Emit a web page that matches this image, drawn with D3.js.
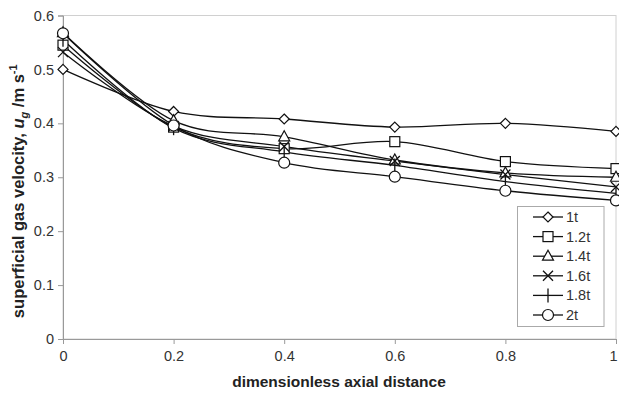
<!DOCTYPE html>
<html><head><meta charset="utf-8">
<script src="https://cdn.jsdelivr.net/npm/d3@7"></script>
<style>body{margin:0;background:#fff}svg{display:block;font-family:"Liberation Sans",Arial,sans-serif}</style>
</head><body><svg id="c" width="619" height="396"></svg>
<script>
const xs = [0, 0.2, 0.4, 0.6, 0.8, 1];
const seriesNames = ["1t", "1.2t", "1.4t", "1.6t", "1.8t", "2t"];
const s1t  = [0.500, 0.422, 0.408, 0.393, 0.400, 0.385];
const s12t = [0.545, 0.393, 0.353, 0.366, 0.329, 0.316];
const s14t = [0.568, 0.405, 0.375, 0.332, 0.308, 0.300];
const s16t = [0.532, 0.395, 0.357, 0.330, 0.305, 0.282];
const s18t = [0.555, 0.391, 0.347, 0.322, 0.292, 0.270];
const s2t  = [0.567, 0.396, 0.327, 0.301, 0.275, 0.257];
const markers = ["diamond", "square", "triangle", "cross", "plus", "circle"];
const xTicks = [0, 0.2, 0.4, 0.6, 0.8, 1];
const yTicks = [0, 0.1, 0.2, 0.3, 0.4, 0.5, 0.6];

const allSeries = [s1t, s12t, s14t, s16t, s18t, s2t];
const svg = d3.select("#c");
const L = 63, R = 616, T = 15.5, B = 339;
const x = d3.scaleLinear().domain([0, 1]).range([L, R]);
const y = d3.scaleLinear().domain([0, 0.6]).range([B, T]);
const gray = "#999";

// frame
svg.append("rect").attr("x", L).attr("y", T).attr("width", R - L).attr("height", B - T)
  .attr("fill", "none").attr("stroke", "#d0d0d0").attr("stroke-width", 1);

const ya = svg.append("g").attr("transform", `translate(${L},0)`)
  .call(d3.axisLeft(y).tickValues(yTicks).tickSize(5).tickPadding(4).tickFormat(d => d3.format("")(+d.toFixed(1))));
const xa = svg.append("g").attr("transform", `translate(0,${B})`)
  .call(d3.axisBottom(x).tickValues(xTicks).tickSize(5).tickPadding(7).tickFormat(d => d3.format("")(+d.toFixed(1))));
[ya, xa].forEach(a => {
  a.select(".domain").attr("stroke", gray);
  a.selectAll(".tick line").attr("stroke", gray);
  a.selectAll("text").attr("font-size", 14.5).attr("fill", "#333").attr("font-family", "Liberation Sans, Arial, sans-serif");
});
xa.selectAll(".tick text").filter(d => d === 1).attr("dx", -3);

function drawMarker(g, type, cx, cy) {
  const st = {fill: "#fff", stroke: "#111", "stroke-width": 1.2};
  const apply = s => { for (const k in st) s.attr(k, st[k]); return s; };
  if (type === "diamond") apply(g.append("path").attr("d", `M${cx},${cy-5}L${cx+5},${cy}L${cx},${cy+5}L${cx-5},${cy}Z`));
  else if (type === "square") apply(g.append("rect").attr("x", cx-5).attr("y", cy-5).attr("width", 10).attr("height", 10));
  else if (type === "triangle") apply(g.append("path").attr("d", `M${cx},${cy-6}L${cx+5.5},${cy+4}L${cx-5.5},${cy+4}Z`));
  else if (type === "circle") apply(g.append("circle").attr("cx", cx).attr("cy", cy).attr("r", 5.5));
  else if (type === "cross") g.append("path").attr("d", `M${cx-5},${cy-5}L${cx+5},${cy+5}M${cx-5},${cy+5}L${cx+5},${cy-5}`).attr("stroke", "#111").attr("stroke-width", 1.3).attr("fill", "none");
  else if (type === "plus") g.append("path").attr("d", `M${cx},${cy-7}L${cx},${cy+7}`).attr("stroke", "#111").attr("stroke-width", 1.3).attr("fill", "none");
}

const line = d3.line().x(d => x(d[0])).y(d => y(d[1])).curve(d3.curveCatmullRom.alpha(0));
const plot = svg.append("g");
allSeries.forEach((vals, i) => {
  const pts = xs.map((xv, j) => [xv, vals[j]]);
  plot.append("path").attr("d", line(pts)).attr("fill", "none").attr("stroke", "#111").attr("stroke-width", 1.3);
});
allSeries.forEach((vals, i) => {
  const g = plot.append("g");
  xs.forEach((xv, j) => drawMarker(g, markers[i], x(xv), y(vals[j])));
});

// legend
const lg = svg.append("g");
lg.append("rect").attr("x", 517.5).attr("y", 206.5).attr("width", 86.5).attr("height", 120)
  .attr("fill", "#fff").attr("stroke", "#aaa").attr("stroke-width", 1);
seriesNames.forEach((n, i) => {
  const cy = 217 + i * 19.6;
  lg.append("line").attr("x1", 533).attr("x2", 563).attr("y1", cy).attr("y2", cy).attr("stroke", "#111").attr("stroke-width", 1.3);
  drawMarker(lg, markers[i], 548, cy);
  lg.append("text").attr("x", 566).attr("y", cy + 5).attr("font-size", 14.5).attr("fill", "#333").text(n);
});

// axis titles
svg.append("text").attr("x", 339).attr("y", 387).attr("text-anchor", "middle")
  .attr("font-size", 15.5).attr("font-weight", "bold").attr("fill", "#222").text("dimensionless axial distance");
const yt = svg.append("text").attr("transform", `translate(24,${(T + B) / 2 + 14}) rotate(-90)`)
  .attr("text-anchor", "middle").attr("font-size", 16.5).attr("font-weight", "bold").attr("fill", "#222");
yt.append("tspan").text("superficial gas velocity, ");
yt.append("tspan").attr("font-style", "italic").text("u");
yt.append("tspan").attr("font-size", 11).attr("dy", 4).attr("font-style", "italic").text("g");
yt.append("tspan").attr("dy", -4).text(" /m s");
yt.append("tspan").attr("font-size", 11).attr("dy", -7).text("-1");
</script></body></html>
